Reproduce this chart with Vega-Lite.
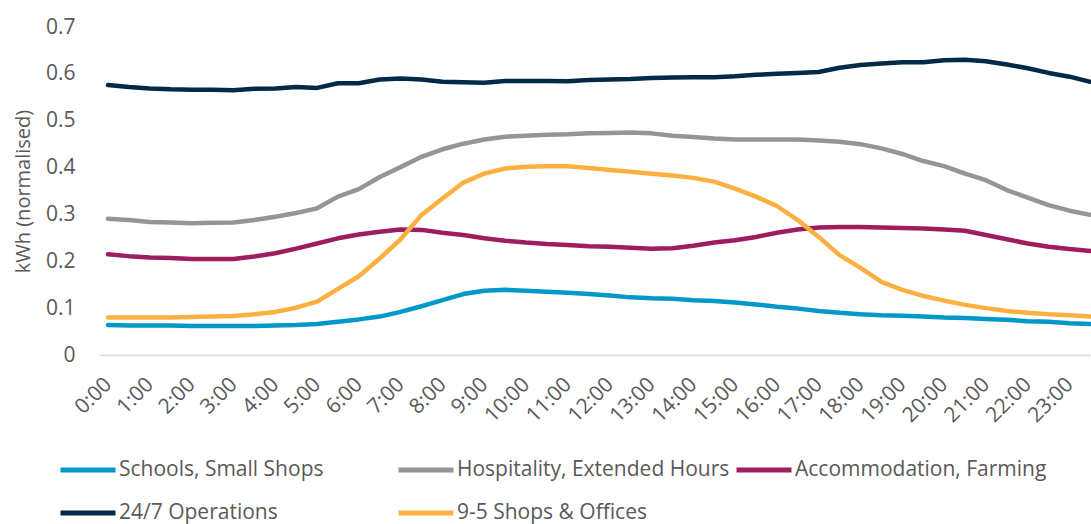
{
  "$schema": "https://vega.github.io/schema/vega-lite/v6.json",
  "width": 991,
  "height": 328,
  "autosize": {"type": "none"},
  "padding": {"left": 99, "top": 27, "right": 1, "bottom": 169},
  "background": "white",
  "config": {
    "view": {"stroke": null},
    "font": "Open Sans"
  },
  "data": {
    "values": [
      {"h":0,"s":"Schools, Small Shops","v":0.064},{"h":0.5,"s":"Schools, Small Shops","v":0.063},{"h":1,"s":"Schools, Small Shops","v":0.063},{"h":1.5,"s":"Schools, Small Shops","v":0.063},{"h":2,"s":"Schools, Small Shops","v":0.062},{"h":2.5,"s":"Schools, Small Shops","v":0.062},{"h":3,"s":"Schools, Small Shops","v":0.062},{"h":3.5,"s":"Schools, Small Shops","v":0.062},{"h":4,"s":"Schools, Small Shops","v":0.063},{"h":4.5,"s":"Schools, Small Shops","v":0.064},{"h":5,"s":"Schools, Small Shops","v":0.066},{"h":5.5,"s":"Schools, Small Shops","v":0.071},{"h":6,"s":"Schools, Small Shops","v":0.076},{"h":6.5,"s":"Schools, Small Shops","v":0.082},{"h":7,"s":"Schools, Small Shops","v":0.092},{"h":7.5,"s":"Schools, Small Shops","v":0.104},{"h":8,"s":"Schools, Small Shops","v":0.117},{"h":8.5,"s":"Schools, Small Shops","v":0.130},{"h":9,"s":"Schools, Small Shops","v":0.137},{"h":9.5,"s":"Schools, Small Shops","v":0.139},{"h":10,"s":"Schools, Small Shops","v":0.137},{"h":10.5,"s":"Schools, Small Shops","v":0.135},{"h":11,"s":"Schools, Small Shops","v":0.133},{"h":11.5,"s":"Schools, Small Shops","v":0.130},{"h":12,"s":"Schools, Small Shops","v":0.127},{"h":12.5,"s":"Schools, Small Shops","v":0.123},{"h":13,"s":"Schools, Small Shops","v":0.121},{"h":13.5,"s":"Schools, Small Shops","v":0.120},{"h":14,"s":"Schools, Small Shops","v":0.117},{"h":14.5,"s":"Schools, Small Shops","v":0.115},{"h":15,"s":"Schools, Small Shops","v":0.112},{"h":15.5,"s":"Schools, Small Shops","v":0.108},{"h":16,"s":"Schools, Small Shops","v":0.103},{"h":16.5,"s":"Schools, Small Shops","v":0.099},{"h":17,"s":"Schools, Small Shops","v":0.094},{"h":17.5,"s":"Schools, Small Shops","v":0.090},{"h":18,"s":"Schools, Small Shops","v":0.087},{"h":18.5,"s":"Schools, Small Shops","v":0.085},{"h":19,"s":"Schools, Small Shops","v":0.084},{"h":19.5,"s":"Schools, Small Shops","v":0.082},{"h":20,"s":"Schools, Small Shops","v":0.080},{"h":20.5,"s":"Schools, Small Shops","v":0.079},{"h":21,"s":"Schools, Small Shops","v":0.077},{"h":21.5,"s":"Schools, Small Shops","v":0.075},{"h":22,"s":"Schools, Small Shops","v":0.072},{"h":22.5,"s":"Schools, Small Shops","v":0.071},{"h":23,"s":"Schools, Small Shops","v":0.068},{"h":23.5,"s":"Schools, Small Shops","v":0.066},
      {"h":0,"s":"Hospitality, Extended Hours","v":0.291},{"h":0.5,"s":"Hospitality, Extended Hours","v":0.288},{"h":1,"s":"Hospitality, Extended Hours","v":0.284},{"h":1.5,"s":"Hospitality, Extended Hours","v":0.283},{"h":2,"s":"Hospitality, Extended Hours","v":0.281},{"h":2.5,"s":"Hospitality, Extended Hours","v":0.282},{"h":3,"s":"Hospitality, Extended Hours","v":0.283},{"h":3.5,"s":"Hospitality, Extended Hours","v":0.288},{"h":4,"s":"Hospitality, Extended Hours","v":0.295},{"h":4.5,"s":"Hospitality, Extended Hours","v":0.303},{"h":5,"s":"Hospitality, Extended Hours","v":0.313},{"h":5.5,"s":"Hospitality, Extended Hours","v":0.338},{"h":6,"s":"Hospitality, Extended Hours","v":0.354},{"h":6.5,"s":"Hospitality, Extended Hours","v":0.380},{"h":7,"s":"Hospitality, Extended Hours","v":0.401},{"h":7.5,"s":"Hospitality, Extended Hours","v":0.423},{"h":8,"s":"Hospitality, Extended Hours","v":0.439},{"h":8.5,"s":"Hospitality, Extended Hours","v":0.451},{"h":9,"s":"Hospitality, Extended Hours","v":0.460},{"h":9.5,"s":"Hospitality, Extended Hours","v":0.466},{"h":10,"s":"Hospitality, Extended Hours","v":0.468},{"h":10.5,"s":"Hospitality, Extended Hours","v":0.470},{"h":11,"s":"Hospitality, Extended Hours","v":0.471},{"h":11.5,"s":"Hospitality, Extended Hours","v":0.473},{"h":12,"s":"Hospitality, Extended Hours","v":0.474},{"h":12.5,"s":"Hospitality, Extended Hours","v":0.475},{"h":13,"s":"Hospitality, Extended Hours","v":0.473},{"h":13.5,"s":"Hospitality, Extended Hours","v":0.468},{"h":14,"s":"Hospitality, Extended Hours","v":0.465},{"h":14.5,"s":"Hospitality, Extended Hours","v":0.462},{"h":15,"s":"Hospitality, Extended Hours","v":0.460},{"h":15.5,"s":"Hospitality, Extended Hours","v":0.460},{"h":16,"s":"Hospitality, Extended Hours","v":0.460},{"h":16.5,"s":"Hospitality, Extended Hours","v":0.460},{"h":17,"s":"Hospitality, Extended Hours","v":0.458},{"h":17.5,"s":"Hospitality, Extended Hours","v":0.455},{"h":18,"s":"Hospitality, Extended Hours","v":0.450},{"h":18.5,"s":"Hospitality, Extended Hours","v":0.441},{"h":19,"s":"Hospitality, Extended Hours","v":0.429},{"h":19.5,"s":"Hospitality, Extended Hours","v":0.414},{"h":20,"s":"Hospitality, Extended Hours","v":0.403},{"h":20.5,"s":"Hospitality, Extended Hours","v":0.387},{"h":21,"s":"Hospitality, Extended Hours","v":0.373},{"h":21.5,"s":"Hospitality, Extended Hours","v":0.352},{"h":22,"s":"Hospitality, Extended Hours","v":0.336},{"h":22.5,"s":"Hospitality, Extended Hours","v":0.320},{"h":23,"s":"Hospitality, Extended Hours","v":0.308},{"h":23.5,"s":"Hospitality, Extended Hours","v":0.299},
      {"h":0,"s":"Accommodation, Farming","v":0.215},{"h":0.5,"s":"Accommodation, Farming","v":0.211},{"h":1,"s":"Accommodation, Farming","v":0.208},{"h":1.5,"s":"Accommodation, Farming","v":0.207},{"h":2,"s":"Accommodation, Farming","v":0.205},{"h":2.5,"s":"Accommodation, Farming","v":0.205},{"h":3,"s":"Accommodation, Farming","v":0.205},{"h":3.5,"s":"Accommodation, Farming","v":0.210},{"h":4,"s":"Accommodation, Farming","v":0.217},{"h":4.5,"s":"Accommodation, Farming","v":0.227},{"h":5,"s":"Accommodation, Farming","v":0.238},{"h":5.5,"s":"Accommodation, Farming","v":0.249},{"h":6,"s":"Accommodation, Farming","v":0.257},{"h":6.5,"s":"Accommodation, Farming","v":0.263},{"h":7,"s":"Accommodation, Farming","v":0.268},{"h":7.5,"s":"Accommodation, Farming","v":0.267},{"h":8,"s":"Accommodation, Farming","v":0.261},{"h":8.5,"s":"Accommodation, Farming","v":0.256},{"h":9,"s":"Accommodation, Farming","v":0.249},{"h":9.5,"s":"Accommodation, Farming","v":0.244},{"h":10,"s":"Accommodation, Farming","v":0.240},{"h":10.5,"s":"Accommodation, Farming","v":0.237},{"h":11,"s":"Accommodation, Farming","v":0.235},{"h":11.5,"s":"Accommodation, Farming","v":0.232},{"h":12,"s":"Accommodation, Farming","v":0.231},{"h":12.5,"s":"Accommodation, Farming","v":0.229},{"h":13,"s":"Accommodation, Farming","v":0.227},{"h":13.5,"s":"Accommodation, Farming","v":0.228},{"h":14,"s":"Accommodation, Farming","v":0.233},{"h":14.5,"s":"Accommodation, Farming","v":0.240},{"h":15,"s":"Accommodation, Farming","v":0.245},{"h":15.5,"s":"Accommodation, Farming","v":0.252},{"h":16,"s":"Accommodation, Farming","v":0.261},{"h":16.5,"s":"Accommodation, Farming","v":0.268},{"h":17,"s":"Accommodation, Farming","v":0.272},{"h":17.5,"s":"Accommodation, Farming","v":0.273},{"h":18,"s":"Accommodation, Farming","v":0.273},{"h":18.5,"s":"Accommodation, Farming","v":0.272},{"h":19,"s":"Accommodation, Farming","v":0.271},{"h":19.5,"s":"Accommodation, Farming","v":0.270},{"h":20,"s":"Accommodation, Farming","v":0.268},{"h":20.5,"s":"Accommodation, Farming","v":0.265},{"h":21,"s":"Accommodation, Farming","v":0.256},{"h":21.5,"s":"Accommodation, Farming","v":0.247},{"h":22,"s":"Accommodation, Farming","v":0.238},{"h":22.5,"s":"Accommodation, Farming","v":0.231},{"h":23,"s":"Accommodation, Farming","v":0.226},{"h":23.5,"s":"Accommodation, Farming","v":0.222},
      {"h":0,"s":"24/7 Operations","v":0.576},{"h":0.5,"s":"24/7 Operations","v":0.572},{"h":1,"s":"24/7 Operations","v":0.569},{"h":1.5,"s":"24/7 Operations","v":0.567},{"h":2,"s":"24/7 Operations","v":0.566},{"h":2.5,"s":"24/7 Operations","v":0.566},{"h":3,"s":"24/7 Operations","v":0.565},{"h":3.5,"s":"24/7 Operations","v":0.568},{"h":4,"s":"24/7 Operations","v":0.569},{"h":4.5,"s":"24/7 Operations","v":0.572},{"h":5,"s":"24/7 Operations","v":0.570},{"h":5.5,"s":"24/7 Operations","v":0.580},{"h":6,"s":"24/7 Operations","v":0.580},{"h":6.5,"s":"24/7 Operations","v":0.588},{"h":7,"s":"24/7 Operations","v":0.590},{"h":7.5,"s":"24/7 Operations","v":0.588},{"h":8,"s":"24/7 Operations","v":0.583},{"h":8.5,"s":"24/7 Operations","v":0.582},{"h":9,"s":"24/7 Operations","v":0.581},{"h":9.5,"s":"24/7 Operations","v":0.585},{"h":10,"s":"24/7 Operations","v":0.585},{"h":10.5,"s":"24/7 Operations","v":0.585},{"h":11,"s":"24/7 Operations","v":0.584},{"h":11.5,"s":"24/7 Operations","v":0.587},{"h":12,"s":"24/7 Operations","v":0.588},{"h":12.5,"s":"24/7 Operations","v":0.589},{"h":13,"s":"24/7 Operations","v":0.591},{"h":13.5,"s":"24/7 Operations","v":0.592},{"h":14,"s":"24/7 Operations","v":0.593},{"h":14.5,"s":"24/7 Operations","v":0.593},{"h":15,"s":"24/7 Operations","v":0.595},{"h":15.5,"s":"24/7 Operations","v":0.598},{"h":16,"s":"24/7 Operations","v":0.600},{"h":16.5,"s":"24/7 Operations","v":0.602},{"h":17,"s":"24/7 Operations","v":0.604},{"h":17.5,"s":"24/7 Operations","v":0.613},{"h":18,"s":"24/7 Operations","v":0.619},{"h":18.5,"s":"24/7 Operations","v":0.622},{"h":19,"s":"24/7 Operations","v":0.625},{"h":19.5,"s":"24/7 Operations","v":0.625},{"h":20,"s":"24/7 Operations","v":0.629},{"h":20.5,"s":"24/7 Operations","v":0.630},{"h":21,"s":"24/7 Operations","v":0.627},{"h":21.5,"s":"24/7 Operations","v":0.620},{"h":22,"s":"24/7 Operations","v":0.612},{"h":22.5,"s":"24/7 Operations","v":0.602},{"h":23,"s":"24/7 Operations","v":0.594},{"h":23.5,"s":"24/7 Operations","v":0.583},
      {"h":0,"s":"9-5 Shops & Offices","v":0.080},{"h":0.5,"s":"9-5 Shops & Offices","v":0.080},{"h":1,"s":"9-5 Shops & Offices","v":0.080},{"h":1.5,"s":"9-5 Shops & Offices","v":0.080},{"h":2,"s":"9-5 Shops & Offices","v":0.081},{"h":2.5,"s":"9-5 Shops & Offices","v":0.082},{"h":3,"s":"9-5 Shops & Offices","v":0.083},{"h":3.5,"s":"9-5 Shops & Offices","v":0.087},{"h":4,"s":"9-5 Shops & Offices","v":0.092},{"h":4.5,"s":"9-5 Shops & Offices","v":0.101},{"h":5,"s":"9-5 Shops & Offices","v":0.114},{"h":5.5,"s":"9-5 Shops & Offices","v":0.141},{"h":6,"s":"9-5 Shops & Offices","v":0.168},{"h":6.5,"s":"9-5 Shops & Offices","v":0.206},{"h":7,"s":"9-5 Shops & Offices","v":0.247},{"h":7.5,"s":"9-5 Shops & Offices","v":0.299},{"h":8,"s":"9-5 Shops & Offices","v":0.334},{"h":8.5,"s":"9-5 Shops & Offices","v":0.368},{"h":9,"s":"9-5 Shops & Offices","v":0.387},{"h":9.5,"s":"9-5 Shops & Offices","v":0.398},{"h":10,"s":"9-5 Shops & Offices","v":0.402},{"h":10.5,"s":"9-5 Shops & Offices","v":0.403},{"h":11,"s":"9-5 Shops & Offices","v":0.403},{"h":11.5,"s":"9-5 Shops & Offices","v":0.399},{"h":12,"s":"9-5 Shops & Offices","v":0.395},{"h":12.5,"s":"9-5 Shops & Offices","v":0.391},{"h":13,"s":"9-5 Shops & Offices","v":0.387},{"h":13.5,"s":"9-5 Shops & Offices","v":0.383},{"h":14,"s":"9-5 Shops & Offices","v":0.378},{"h":14.5,"s":"9-5 Shops & Offices","v":0.370},{"h":15,"s":"9-5 Shops & Offices","v":0.355},{"h":15.5,"s":"9-5 Shops & Offices","v":0.338},{"h":16,"s":"9-5 Shops & Offices","v":0.318},{"h":16.5,"s":"9-5 Shops & Offices","v":0.288},{"h":17,"s":"9-5 Shops & Offices","v":0.252},{"h":17.5,"s":"9-5 Shops & Offices","v":0.213},{"h":18,"s":"9-5 Shops & Offices","v":0.186},{"h":18.5,"s":"9-5 Shops & Offices","v":0.156},{"h":19,"s":"9-5 Shops & Offices","v":0.139},{"h":19.5,"s":"9-5 Shops & Offices","v":0.126},{"h":20,"s":"9-5 Shops & Offices","v":0.116},{"h":20.5,"s":"9-5 Shops & Offices","v":0.107},{"h":21,"s":"9-5 Shops & Offices","v":0.100},{"h":21.5,"s":"9-5 Shops & Offices","v":0.094},{"h":22,"s":"9-5 Shops & Offices","v":0.090},{"h":22.5,"s":"9-5 Shops & Offices","v":0.087},{"h":23,"s":"9-5 Shops & Offices","v":0.085},{"h":23.5,"s":"9-5 Shops & Offices","v":0.082}
    ]
  },
  "mark": {"type": "line", "strokeWidth": 4.5, "strokeCap": "round", "strokeJoin": "round"},
  "encoding": {
    "x": {
      "field": "h",
      "type": "quantitative",
      "scale": {"domain": [-0.215, 23.49], "nice": false, "zero": false},
      "axis": {
        "title": null,
        "values": [0,1,2,3,4,5,6,7,8,9,10,11,12,13,14,15,16,17,18,19,20,21,22,23],
        "labelExpr": "datum.value + ':00'",
        "labelAngle": -45,
        "labelAlign": "right",
        "labelBaseline": "middle",
        "labelPadding": 26,
        "labelFontSize": 21,
        "labelColor": "#595959",
        "labelFont": "Open Sans",
        "ticks": false,
        "grid": false,
        "domainColor": "#d9d9d9",
        "domainWidth": 1.5,
        "labelOverlap": false,
        "labelBound": false,
        "labelFlush": false
      }
    },
    "y": {
      "field": "v",
      "type": "quantitative",
      "scale": {"domain": [0, 0.7], "nice": false},
      "axis": {
        "title": "kWh (normalised)",
        "titleFontSize": 20,
        "titleFontWeight": "normal",
        "titleColor": "#595959",
        "titleFont": "Open Sans",
        "titlePadding": 12,
        "values": [0, 0.1, 0.2, 0.3, 0.4, 0.5, 0.6, 0.7],
        "labelExpr": "datum.value == 0 ? '0' : format(datum.value, '.1f')",
        "labelFontSize": 21,
        "labelColor": "#595959",
        "labelFont": "Open Sans",
        "labelPadding": 24,
        "ticks": false,
        "domain": false,
        "grid": false
      }
    },
    "color": {
      "field": "s",
      "type": "nominal",
      "scale": {
        "domain": ["Schools, Small Shops", "Hospitality, Extended Hours", "Accommodation, Farming", "24/7 Operations", "9-5 Shops & Offices"],
        "range": ["#0097CB", "#939598", "#9D1D60", "#002A48", "#FBB040"]
      },
      "legend": {
        "title": null,
        "orient": "none",
        "legendX": -41,
        "legendY": 413,
        "direction": "horizontal",
        "columns": 3,
        "gridAlign": "all",
        "columnPadding": -4,
        "rowPadding": 3,
        "symbolType": "stroke",
        "symbolSize": 3025,
        "symbolStrokeWidth": 5,
        "labelFontSize": 21,
        "labelColor": "#595959",
        "labelFont": "Open Sans",
        "labelOffset": 1,
        "labelLimit": 400
      }
    }
  }
}
